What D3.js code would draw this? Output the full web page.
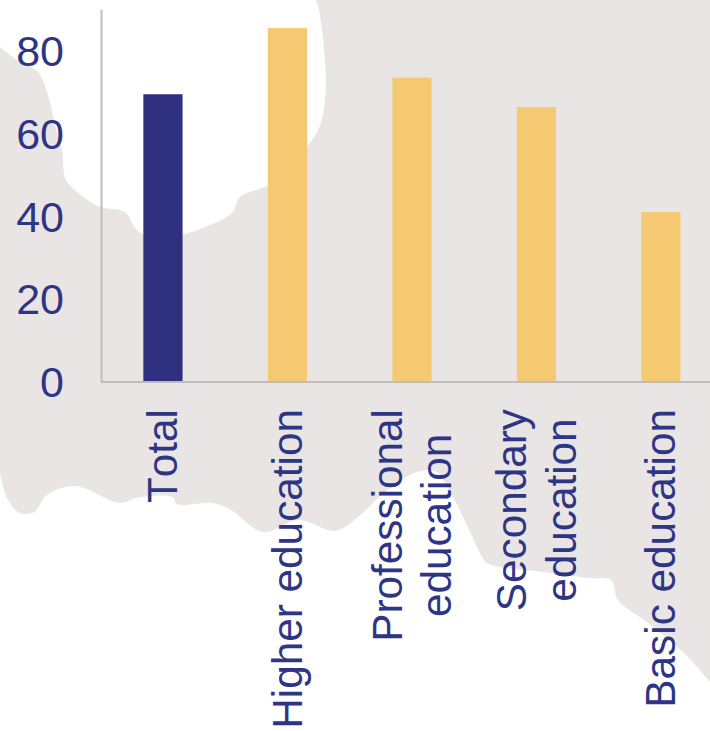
<!DOCTYPE html>
<html><head><meta charset="utf-8">
<script src="https://cdn.jsdelivr.net/npm/d3@7"></script>
<style>html,body{margin:0;padding:0;background:#fff}svg{display:block}text{font-kerning:none}</style>
</head><body><svg id="c" width="710" height="731"></svg>
<script>
const categories = [["Total"],["Higher education"],["Professional","education"],["Secondary","education"],["Basic education"]];
const values = [69.5, 85.5, 73.5, 66.4, 41];
const barColors = ["#2f3180","#f5c972","#f5c972","#f5c972","#f5c972"];
const yTicks = [0,20,40,60,80];
const topWhite = [[0,47],[17,60],[38,72],[48,95],[55,125],[62,150],[66,180],[85,198],[100,207],[125,212],[135,228],[145,235],[180,235],[210,225],[232,213],[240,197],[268,185],[295,160],[318,130],[325,100],[325,60],[319,10],[316,0]];
const bottomEdge = [[0,473],[7,498],[20,513],[34,512],[47,495],[75,486],[120,503],[136,498],[172,497],[177,504],[213,503],[231,510],[263,532],[299,520],[335,531],[358,517],[385,492],[417,472],[437,472],[445,483],[457,505],[466,523],[480,553],[487,563],[543,572],[589,578],[611,580],[618,600],[648,623],[684,653],[710,682]];

const svg = d3.select("#c");
const textColor = "#2d3584", axisColor = "#bfbdbb", font = "'Liberation Sans', Arial, sans-serif";
const y = d3.scaleLinear().domain([0,90]).range([381.5,9.5]);
const x = d3.scaleBand().domain(categories.map(d=>d.join(" "))).range([100.7,723.2]).paddingInner(0.685).paddingOuter(0.3425);

// background map silhouette
const line = d3.line().curve(d3.curveCatmullRom.alpha(0.5));
const grey = svg.append("g");
grey.append("path").attr("d", line(bottomEdge)+"L710,0L0,0Z").attr("fill","#e9e5e5");
grey.append("path").attr("d", line(topWhite)+"L0,0Z").attr("fill","#fff");

// bars
svg.append("g").selectAll("rect").data(values).join("rect")
  .attr("x",(d,i)=>x(categories[i].join(" ")))
  .attr("width",x.bandwidth())
  .attr("y",d=>y(d))
  .attr("height",d=>y(0)-y(d))
  .attr("fill",(d,i)=>barColors[i]);

// y axis
const yG = svg.append("g").attr("transform","translate(101,0)")
  .call(d3.axisLeft(y).tickValues(yTicks).tickSize(0).tickPadding(37));
yG.select(".domain").attr("stroke",axisColor).attr("stroke-width",2);
yG.selectAll("text").attr("fill",textColor).attr("font-family",font).attr("font-size",43).attr("dy","0.35em");

// x axis
const xG = svg.append("g").attr("transform","translate(0,381.5)")
  .call(d3.axisBottom(x).tickSize(0).tickFormat(""));
xG.select(".domain").attr("stroke",axisColor).attr("stroke-width",2);
xG.selectAll(".tick text").each(function(d,i){
  const lines = categories[i], t = d3.select(this);
  t.attr("font-family",font).attr("font-size",42.3).attr("fill",textColor).attr("text-anchor","middle").attr("y",0).attr("dy",null);
  const spans = lines.map((s,j)=>t.append("tspan").attr("x",0).attr("y",(j-(lines.length-1)/2)*49.5+14.5).text(s));
  const w = d3.max(spans,s=>s.node().getComputedTextLength());
  t.attr("transform",`translate(0,${27.5+w/2}) rotate(-90)`);
});
</script></body></html>
